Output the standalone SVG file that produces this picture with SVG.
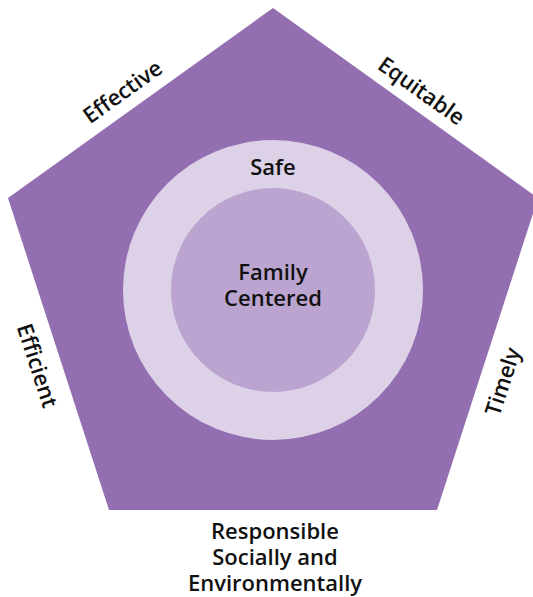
<svg xmlns="http://www.w3.org/2000/svg" width="533" height="597" viewBox="0 0 533 597">
  <style>
    .lbl { font-family: "Open Sans", Lato, "Liberation Sans", sans-serif; font-weight: 600; font-size: 22px; fill: #111; text-anchor: middle; }
  </style>
  <rect width="533" height="597" fill="#ffffff"/>
  <g id="pentagon">
    <polygon points="273,8 538,198 437,510 109,510 8,198" fill="#936eb0"/>
  </g>
  <g id="safe">
    <circle cx="273" cy="290" r="150" fill="#ddd1e7"/>
    <text class="lbl" x="273" y="175">Safe</text>
  </g>
  <g id="family-centered">
    <circle cx="273" cy="290" r="102" fill="#bba5d0"/>
    <text class="lbl" x="273" y="280">Family</text>
    <text class="lbl" x="273" y="306">Centered</text>
  </g>
  <g id="effective">
    <text class="lbl" transform="translate(127,98) rotate(-35.5)">Effective</text>
  </g>
  <g id="equitable">
    <text class="lbl" transform="translate(417,97) rotate(35.5)">Equitable</text>
  </g>
  <g id="efficient">
    <text class="lbl" transform="translate(30,368) rotate(72)">Efficient</text>
  </g>
  <g id="timely">
    <text class="lbl" transform="translate(510,384) rotate(-72)">Timely</text>
  </g>
  <g id="responsible">
    <text class="lbl" x="275" y="539">Responsible</text>
    <text class="lbl" x="275" y="565">Socially and</text>
    <text class="lbl" x="275" y="591">Environmentally</text>
  </g>
</svg>
